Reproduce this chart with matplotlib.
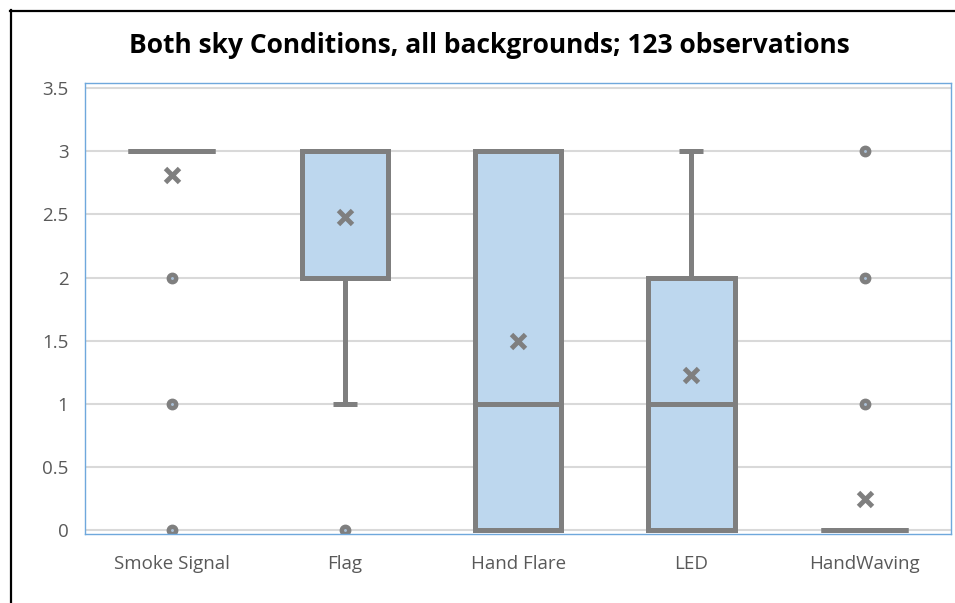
import matplotlib.pyplot as plt
from matplotlib.lines import Line2D

# data (ratings 0-3)
categories = ["Smoke Signal", "Flag", "Hand Flare", "LED", "HandWaving"]
q1 = [3, 2, 0, 0, 0]
med = [3, 3, 1, 1, 0]
q3 = [3, 3, 3, 2, 0]
whislo = [3, 1, 0, 0, 0]
whishi = [3, 3, 3, 3, 0]
means = [2.81, 2.48, 1.5, 1.23, 0.25]
fliers = [[0, 1, 2], [0], [], [], [1, 2, 3]]

title = "Both sky Conditions, all backgrounds; 123 observations"
yticks = [0, 0.5, 1, 1.5, 2, 2.5, 3, 3.5]

grey = "#7f7f7f"
fill = "#bdd7ee"
txt = "#595959"

plt.rcParams['font.family'] = ['Open Sans', 'DejaVu Sans']

stats = []
for i, c in enumerate(categories):
    stats.append(dict(label=c, q1=q1[i], med=med[i], q3=q3[i],
                      whislo=whislo[i], whishi=whishi[i],
                      mean=means[i], fliers=fliers[i]))

fig = plt.figure(figsize=(9.55, 6.03), dpi=100)
ax = fig.add_axes([0.089, 0.1144, 0.907, 0.748])

lw = 3.6
ax.bxp(stats, positions=range(len(categories)), widths=0.5,
       patch_artist=True, showmeans=True, showcaps=False,
       boxprops=dict(facecolor=fill, edgecolor=grey, linewidth=lw),
       medianprops=dict(color=grey, linewidth=lw),
       whiskerprops=dict(color=grey, linewidth=lw),
       meanprops=dict(marker='x', markeredgecolor=grey, markersize=10,
                      markeredgewidth=3.5),
       flierprops=dict(marker='o', markerfacecolor=grey, markeredgecolor=grey,
                       markersize=7.5))

# small light centre on the outlier dots, as Excel draws them
for i in range(len(categories)):
    if fliers[i]:
        ax.plot([i] * len(fliers[i]), fliers[i], linestyle='none', marker='o',
                markersize=1.1, color="#a9bfd6", zorder=5)

# caps only where the whisker extends beyond the box (Excel style)
for i in range(len(categories)):
    if whishi[i] > q3[i]:
        ax.hlines(whishi[i], i - 0.07, i + 0.07, color=grey, linewidth=lw)
    if whislo[i] < q1[i]:
        ax.hlines(whislo[i], i - 0.07, i + 0.07, color=grey, linewidth=lw)

ax.set_xlim(-0.5, len(categories) - 0.5)
ax.set_ylim(-0.03, 3.54)
ax.set_yticks(yticks)
ax.set_yticklabels(["0", "0.5", "1", "1.5", "2", "2.5", "3", "3.5"])
ax.set_xticks(range(len(categories)))
ax.set_xticklabels(categories)
ax.tick_params(length=0, colors=txt, labelsize=13.5)
ax.tick_params(axis='y', pad=12)
ax.tick_params(axis='x', pad=15)
ax.yaxis.grid(True, color="#d9d9d9", linewidth=1.5)
ax.set_axisbelow(True)
for s in ax.spines.values():
    s.set_color("#6fa8dc")
    s.set_linewidth(1)

fig.text(0.512, 0.925, title, ha='center', va='center', fontsize=19,
         fontweight='bold', color='black')

# black border of the original screenshot
fig.add_artist(Line2D([10.5 / 955, 10.5 / 955], [0, 1 - 10 / 603],
                      color='black', linewidth=1.6, transform=fig.transFigure))
fig.add_artist(Line2D([10 / 955, 1], [1 - 10.5 / 603, 1 - 10.5 / 603],
                      color='black', linewidth=1.6, transform=fig.transFigure))

fig.savefig("out.png", dpi=100)
